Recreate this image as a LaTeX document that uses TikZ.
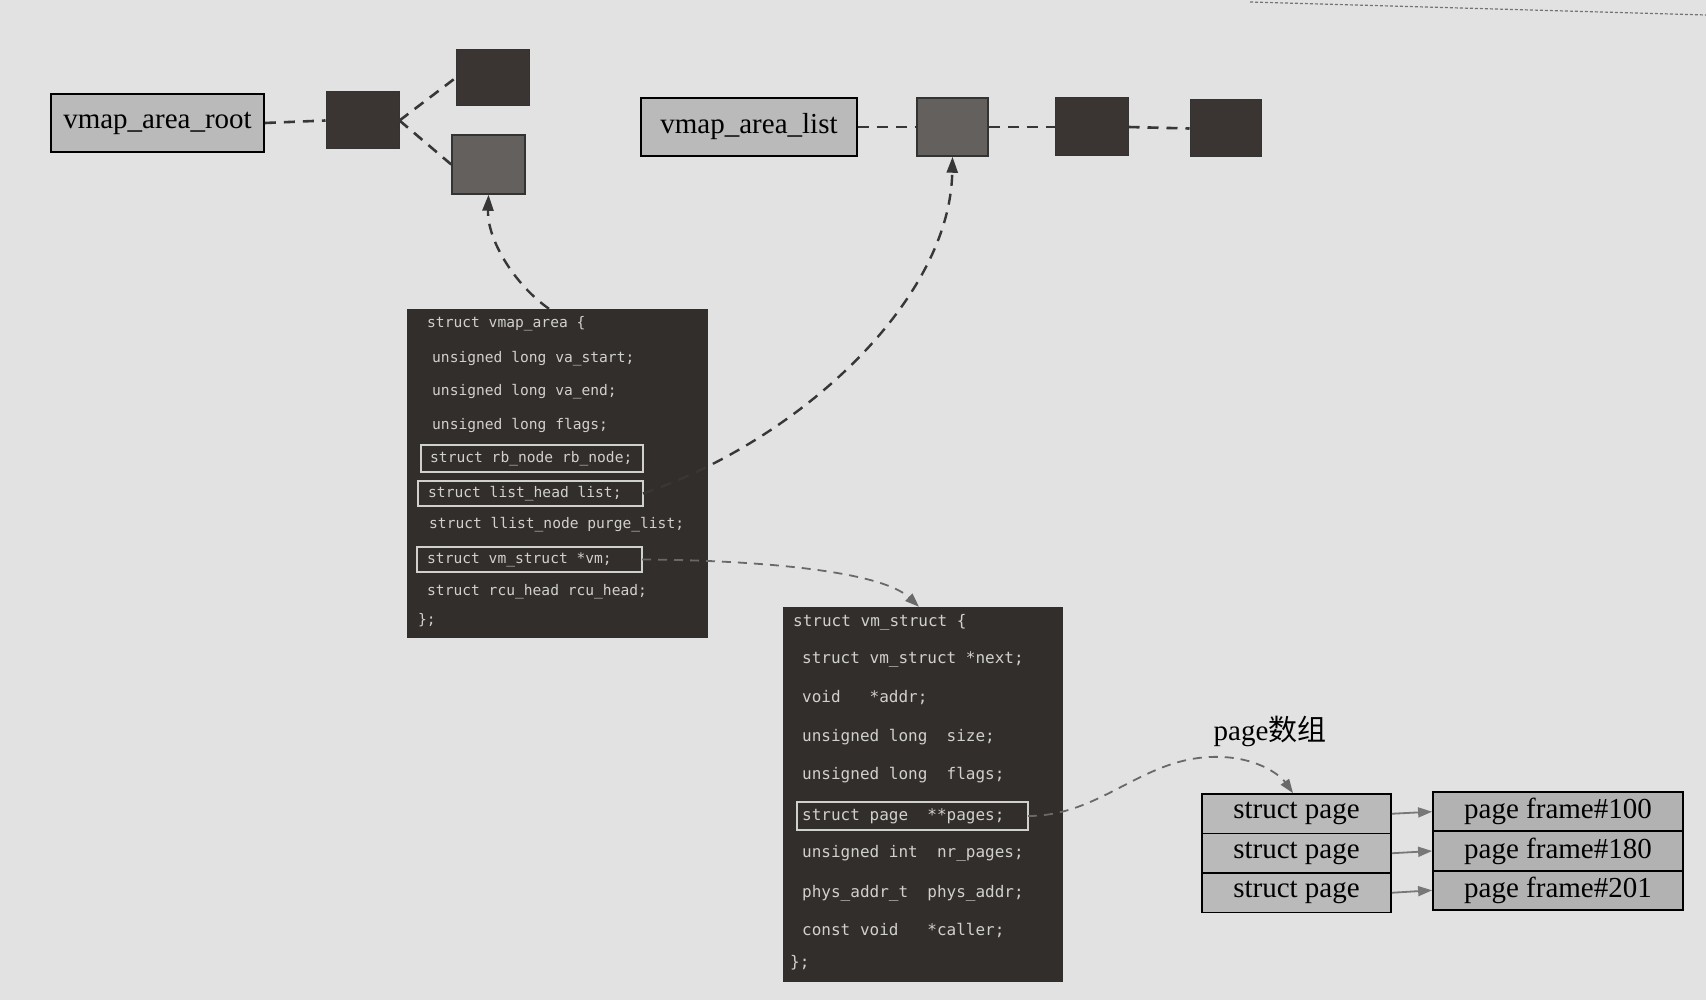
\documentclass[tikz,border=0pt]{standalone}
\usepackage{fontspec}
\setmainfont{Liberation Serif}
\newfontfamily\codefont{DejaVu Sans Mono}
\newfontfamily\cjkfont{Noto Sans CJK SC}
\usetikzlibrary{arrows.meta}
\definecolor{bg}{RGB}{226,226,226}
\definecolor{lblfill}{RGB}{186,186,186}
\definecolor{framefill}{RGB}{178,178,178}
\definecolor{darkbox}{RGB}{58,52,50}
\definecolor{greybox}{RGB}{100,96,94}
\definecolor{codebg}{RGB}{50,46,44}
\definecolor{codetxt}{RGB}{208,208,204}
\definecolor{edge}{RGB}{55,55,55}
\definecolor{lightarrow}{RGB}{105,105,105}
\tikzset{
  lbl/.style={draw=black, line width=1.8pt, fill=lblfill, inner sep=0pt, font=\fontsize{29}{31}\selectfont},
  frm/.style={draw=black, line width=1.8pt, fill=framefill, inner sep=0pt, font=\fontsize{29}{31}\selectfont},
  blk/.style={draw=black!80, line width=1pt, fill=darkbox, inner sep=0pt},
  gblk/.style={draw=black!80, line width=1.5pt, fill=greybox, inner sep=0pt},
  codebox/.style={fill=codebg, draw=none, inner sep=0pt},
  cl/.style={anchor=west, inner sep=0pt, text=codetxt, font=\codefont\fontsize{14.6}{16}\selectfont},
  clb/.style={anchor=west, inner sep=0pt, text=codetxt, font=\codefont\fontsize{16}{18}\selectfont},
  hl/.style={draw=codetxt, line width=1.4pt},
  dl/.style={draw=edge, line width=2.6pt, dash pattern=on 11pt off 8pt},
  darr/.style={draw=edge, line width=2.4pt, dash pattern=on 11pt off 8pt, -{Triangle[length=16pt,width=11pt]}},
  larr/.style={draw=lightarrow, line width=1.8pt, dash pattern=on 9pt off 7pt, -{Triangle[length=14pt,width=10pt]}},
  parr/.style={draw=lightarrow!90, line width=1.8pt, -{Triangle[length=14pt,width=10pt]}}
}
\begin{document}
\begin{tikzpicture}[x=1pt,y=-1pt]
\fill[bg] (0,0) rectangle (1706,1000);
\useasboundingbox (0,0) rectangle (1706,1000);
\draw[black!55, line width=1.2pt, dash pattern=on 3pt off 2pt] (1250,2) -- (1706,15);

% top left tree
\node[lbl, minimum width=213pt, minimum height=58pt] (root) at (157.5,123) {vmap\_area\_root};
\node[blk, minimum width=73pt, minimum height=57pt] (r1) at (362.5,120.5) {};
\node[blk, minimum width=73pt, minimum height=56pt] (r2) at (492.5,78) {};
\node[gblk, minimum width=73pt, minimum height=59pt] (r3) at (488.5,164.5) {};
\draw[dl] (root.east) -- (r1.west);
\draw[dl] (r1.east) -- (r2.west);
\draw[dl] (r1.east) -- (r3.west);

% top list
\node[lbl, minimum width=216pt, minimum height=58pt] (list) at (749,127) {vmap\_area\_list};
\node[gblk, minimum width=71pt, minimum height=58pt] (l1) at (952.5,127) {};
\node[blk, minimum width=73pt, minimum height=58pt] (l2) at (1091.5,127) {};
\node[blk, minimum width=71pt, minimum height=57pt] (l3) at (1225.5,128.5) {};
\draw[dl] (list.east) -- (l1.west);
\draw[dl] (l1.east) -- (l2.west);
\draw[dl] (l2.east) -- (l3.west);

% vmap_area code
\node[codebox, minimum width=301pt, minimum height=329pt] (va) at (557.5,473.5) {};
\node[cl] (va0) at (427,324) {struct vmap\_area \{};
\node[cl] (va1) at (432,359) {unsigned long va\_start;};
\node[cl] (va2) at (432,392) {unsigned long va\_end;};
\node[cl] (va3) at (432,425) {unsigned long flags;};
\draw[hl] (421,445) rectangle (643,472);
\node[cl] (rbnode) at (430,458.5) {struct rb\_node rb\_node;};
\draw[hl] (418,481) rectangle (643,506);
\node[cl] (listhead) at (428,493.5) {struct list\_head list;};
\node[cl] (va6) at (429,525) {struct llist\_node purge\_list;};
\draw[hl] (417,547) rectangle (642,572);
\node[cl] (vmptr) at (427,559.5) {struct vm\_struct *vm;};
\node[cl] (va8) at (427,592) {struct rcu\_head rcu\_head;};
\node[cl] (va9) at (418,620) {\};};
\coordinate (lhend) at (643,493.5);
\coordinate (vmend) at (642,559.5);

% vm_struct code
\node[codebox, minimum width=280pt, minimum height=375pt] (vs) at (923,794.5) {};
\node[clb] (vs0) at (793,622) {struct vm\_struct \{};
\node[clb] (vs1) at (802,659) {struct vm\_struct *next;};
\node[clb] (vs2) at (802,698) {void~~~*addr;};
\node[clb] (vs3) at (802,737) {unsigned long~~size;};
\node[clb] (vs4) at (802,775) {unsigned long~~flags;};
\draw[hl] (797,802) rectangle (1028,830);
\node[clb] (pages) at (802,816) {struct page~~**pages;};
\node[clb] (vs6) at (802,853) {unsigned int~~nr\_pages;};
\node[clb] (vs7) at (802,893) {phys\_addr\_t~~phys\_addr;};
\node[clb] (vs8) at (802,930) {const void~~~*caller;};
\node[clb] (vs9) at (790,963) {\};};
\coordinate (pgend) at (1028,816);

% page array
\node[font=\fontsize{29}{31}\selectfont, inner sep=0pt] (pglabel) at (1270,731) {page{\cjkfont 数组}};
\node[lbl, minimum width=189pt, minimum height=39.5pt] (sp1) at (1296.5,813.75) {struct page};
\node[lbl, minimum width=189pt, minimum height=39.5pt] (sp2) at (1296.5,853.25) {struct page};
\node[lbl, minimum width=189pt, minimum height=39.5pt] (sp3) at (1296.5,892.75) {struct page};
\node[frm, minimum width=250pt, minimum height=39.3pt] (pf1) at (1558,811.7) {page frame\#100};
\node[frm, minimum width=250pt, minimum height=39.3pt] (pf2) at (1558,851) {page frame\#180};
\node[frm, minimum width=250pt, minimum height=39.3pt] (pf3) at (1558,890.3) {page frame\#201};
\draw[parr] (sp1.east) -- (pf1.west);
\draw[parr] (sp2.east) -- (pf2.west);
\draw[parr] (sp3.east) -- (pf3.west);

% curved arrows
\draw[darr] ([xshift=-8.5pt]va.north) .. controls (515,285) and (487,240) .. (r3.south);
\draw[darr] (lhend) .. controls (800,440) and (950,300) .. (l1.south);
\draw[larr] (vmend) .. controls (750,560) and (880,570) .. ([xshift=-4pt]vs.north);
\draw[larr] (pgend) .. controls (1100,816) and (1140,760) .. (1210,757) .. controls (1255,755) and (1280,775) .. ([xshift=-3.5pt]sp1.north);
\end{tikzpicture}
\end{document}
